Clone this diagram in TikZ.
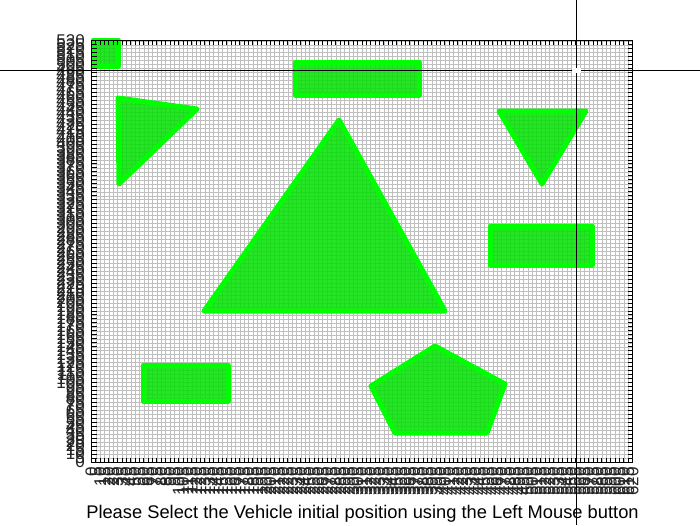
\documentclass[tikz,border=0pt]{standalone}
\usepackage{fontspec}
\setmainfont{Liberation Sans}
\definecolor{obsfill}{RGB}{0,225,0}
\definecolor{obsedge}{RGB}{0,255,0}
\tikzset{
  obstacle/.style={fill=obsfill, draw=obsedge, line width=5pt, line join=round},
  gridline/.style={draw=black!25, line width=0.5pt},
  tickline/.style={draw=black, line width=1pt},
  ticklabel/.style={inner sep=0pt, font=\fontsize{17}{17}\selectfont, text=black!85}
}
\begin{document}
\begin{tikzpicture}[x=1pt,y=-1pt]
\useasboundingbox[fill=white] (0,0) rectangle (700,525);
% grid
\foreach \i in {0,...,124} {
  \pgfmathsetmacro\gx{91.5+\i*4.3629}
  \draw[gridline] (\gx,40) -- (\gx,462);
}
\foreach \j in {0,...,106} {
  \pgfmathsetmacro\gy{462-\j*3.9736}
  \draw[gridline] (91.5,\gy) -- (632.5,\gy);
}
% obstacles
\begin{scope}[fill opacity=0.85]
\draw[obstacle] (93,40) rectangle (118,66);
\draw[obstacle] (295,62) rectangle (419,95);
\draw[obstacle] (118,98) -- (197,109) -- (119,184) -- cycle;
\draw[obstacle] (499,111) -- (586,111) -- (542,184) -- cycle;
\draw[obstacle] (339,120) -- (445,311) -- (204,311) -- cycle;
\draw[obstacle] (490,226) rectangle (592,265);
\draw[obstacle] (143,365) rectangle (228,401);
\draw[obstacle] (435,346) -- (505,384) -- (487,433) -- (395,433) -- (371,386) -- cycle;
\end{scope}
% axes box and ticks
\draw[tickline] (91.5,40) rectangle (632.5,462);
\foreach \i in {0,...,124} {
  \pgfmathsetmacro\gx{91.5+\i*4.3629}
  \draw[tickline] (\gx,462) -- (\gx,457.5);
  \draw[tickline] (\gx,40) -- (\gx,44.5);
  \pgfmathtruncatemacro\lab{\i*5}
  \node[ticklabel, rotate=90, anchor=east] (xl\i) at (\gx,467) {\lab};
}
\foreach \j in {0,...,106} {
  \pgfmathsetmacro\gy{462-\j*3.9736}
  \draw[tickline] (91.5,\gy) -- (96.5,\gy);
  \draw[tickline] (632.5,\gy) -- (627.5,\gy);
  \pgfmathtruncatemacro\lab{\j*5}
  \node[ticklabel, anchor=east] (yl\j) at (85,\gy) {\lab};
}
% title
\node[inner sep=0pt, font=\fontsize{18.3}{18.3}\selectfont] (title) at (362.5,514) {Please Select the Vehicle initial position using the Left Mouse button};
% crosshair cursor
\draw[black, line width=1pt] (576,0) -- (576,525);
\draw[black, line width=1pt] (0,70) -- (700,70);
\fill[white] (571.5,67.5) rectangle (580.5,73);
\end{tikzpicture}
\end{document}
